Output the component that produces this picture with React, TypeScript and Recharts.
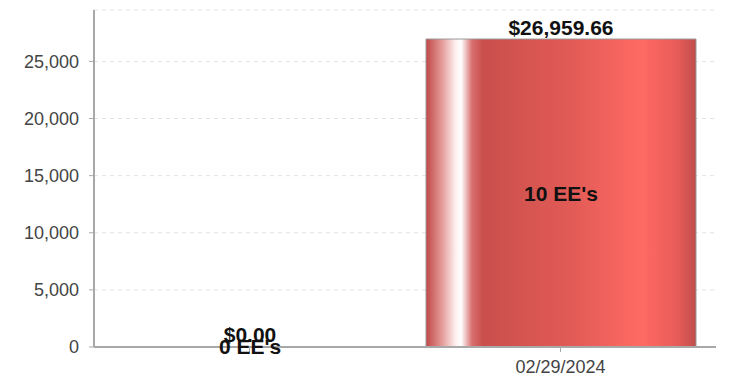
import { BarChart, Bar, XAxis, YAxis, CartesianGrid, LabelList, Rectangle } from 'recharts';

const periods = ['', '02/29/2024'];
const amounts = [0, 26959.66];
const employees = [0, 10];
const yTicks = [0, 5000, 10000, 15000, 20000, 25000];

const data = periods.map((p, i) => ({ period: p, amount: amounts[i], ees: employees[i] }));

const money = (v: number) =>
    '$' + v.toLocaleString('en-US', { minimumFractionDigits: 2, maximumFractionDigits: 2 });

const font = 'Arial, "Liberation Sans", sans-serif';

// label drawn in the middle of each bar, "N EE's"
const InsideLabel = (props: any) => {
    const { x, y, width, height, value } = props;
    return (
        <text
            x={x + width / 2}
            y={y + height / 2}
            textAnchor="middle"
            dominantBaseline="central"
            fontFamily={font}
            fontWeight="bold"
            fontSize={21}
            fill="#111"
        >
            {`${value} EE's`}
        </text>
    );
};

// zero bars keep a 1px slot so their labels still show, but draw no rect
const BarShape = (props: any) => {
    if (!props.amount) return <g />;
    return <Rectangle {...props} />;
};

export default function App() {
    return (
        <div style={{ position: 'absolute', left: 0, top: 0, background: '#fff' }}>
            <BarChart
                width={733}
                height={381}
                data={data}
                margin={{ top: 10, right: 17, left: 0, bottom: 0 }}
                barSize={270}
            >
                <defs>
                    <linearGradient id="barRed" x1="0" y1="0" x2="1" y2="0">
                        <stop offset="0%" stopColor="#c04846" />
                        <stop offset="6%" stopColor="#e49c9a" />
                        <stop offset="11%" stopColor="#fdf0f0" />
                        <stop offset="13%" stopColor="#ffffff" />
                        <stop offset="17%" stopColor="#d97070" />
                        <stop offset="21%" stopColor="#c94f4c" />
                        <stop offset="55%" stopColor="#e35b56" />
                        <stop offset="80%" stopColor="#ff6a64" />
                        <stop offset="93%" stopColor="#e85c58" />
                        <stop offset="100%" stopColor="#c04e4b" />
                    </linearGradient>
                </defs>
                <CartesianGrid
                    vertical={false}
                    strokeDasharray="4 4"
                    stroke="#e2e2e2"
                />
                <XAxis
                    dataKey="period"
                    height={34}
                    axisLine={{ stroke: '#a8a8a8', strokeWidth: 2 }}
                    tickLine={{ stroke: '#a8a8a8' }}
                    tickSize={5}
                    tickMargin={8}
                    tick={{ fill: '#444', fontSize: 18, fontFamily: font }}
                />
                <YAxis
                    width={94}
                    domain={[0, 29500]}
                    ticks={yTicks}
                    interval={0}
                    axisLine={{ stroke: '#a8a8a8', strokeWidth: 2 }}
                    tickLine={{ stroke: '#a8a8a8' }}
                    tickSize={5}
                    tickMargin={10}
                    tick={{ fill: '#444', fontSize: 18, fontFamily: font }}
                    tickFormatter={(v) => v.toLocaleString('en-US')}
                />
                <Bar
                    dataKey="amount"
                    fill="url(#barRed)"
                    stroke="#999"
                    strokeWidth={1}
                    minPointSize={1}
                    shape={BarShape}
                    isAnimationActive={false}
                >
                    <LabelList dataKey="ees" content={InsideLabel} />
                    <LabelList
                        dataKey="amount"
                        position="top"
                        offset={4}
                        formatter={(v: any) => money(Number(v))}
                        style={{ fontFamily: font, fontWeight: 'bold', fontSize: 21, fill: '#111' }}
                    />
                </Bar>
            </BarChart>
        </div>
    );
}
